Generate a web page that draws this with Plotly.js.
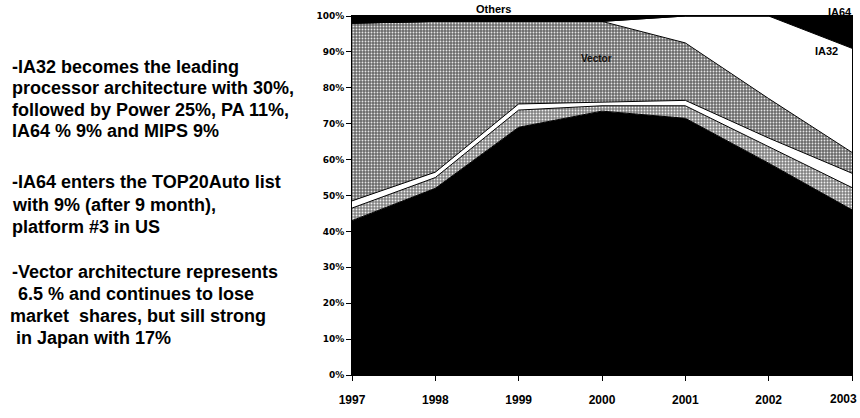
<!DOCTYPE html>
<html>
<head>
<meta charset="utf-8">
<script src="https://cdn.plot.ly/plotly-3.0.1.min.js"></script>
<style>
  html, body { margin: 0; padding: 0; background: #fff; overflow: hidden; }
  #chart { width: 860px; height: 418px; }
</style>
</head>
<body>
<div id="chart"></div>
<script>
// ---- data (shares in %) ----
const years   = [1997, 1998, 1999, 2000, 2001, 2002, 2003];
const risc    = [43, 52, 69, 73.5, 71.5, 59, 46];     // black bottom block
const band2   = [3.5, 3, 4.8, 1.5, 3.5, 4.5, 6.2];    // lower textured band
const band3   = [2, 1.5, 1.7, 1, 1.5, 2.5, 4];        // white strip
const vector  = [49.5, 42, 23, 22.5, 16, 11, 5.8];    // Vector (grey)
const ia32    = [0, 0, 0, 0, 7.5, 23, 29];
const ia64    = [0, 0, 0, 0, 0, 0, 9];
const others  = [2, 1.5, 1.5, 1.5, 0, 0, 0];

const yTickVals = [0, 10, 20, 30, 40, 50, 60, 70, 80, 90, 100];

const notes = [
  "-IA32 becomes the leading",
  "processor architecture with 30%,",
  "followed by Power 25%, PA 11%,",
  "IA64 % 9% and MIPS 9%",
  "-IA64 enters the TOP20Auto list",
  "with 9% (after 9 month),",
  "platform #3 in US",
  "-Vector architecture represents",
  "6.5 % and continues to lose",
  "market  shares, but sill strong",
  "in Japan with 17%"
];

// ---- geometry ----
const W = 860, H = 418;
const M = { l: 352, r: 8, t: 16, b: 43 };
const PW = W - M.l - M.r, PH = H - M.t - M.b;
const px = x => (x - M.l) / PW;
const py = y => (H - M.b - y) / PH;

const noteX = [10, 10, 10, 10, 10, 10, 10, 10, 16, 8, 14];
const noteY = [67, 88, 110, 131, 182, 205, 227, 272, 294, 316, 338];

function area(name, y, fill, pattern) {
  const t = {
    x: years, y: y, name: name, type: 'scatter', mode: 'lines',
    stackgroup: 'one', line: { color: '#000', width: 1, shape: 'linear' },
    fillcolor: fill, hoverinfo: 'skip'
  };
  if (pattern) t.fillpattern = pattern;
  return t;
}

const traces = [
  area('RISC', risc, '#000000'),
  area('Band 2', band2, '#8a8a8a', { shape: '.', bgcolor: '#828282', fgcolor: '#f0f0f0', size: 3, solidity: 0.3 }),
  area('Band 3', band3, '#ffffff'),
  area('Vector', vector, '#7a7a7a', { shape: '.', bgcolor: '#6a6a6a', fgcolor: '#e6e6e6', size: 3, solidity: 0.3 }),
  area('IA32', ia32, '#ffffff'),
  area('IA64', ia64, '#000000'),
  area('Others', others, '#000000')
];

const annotations = notes.map((s, i) => ({
  text: s, xref: 'paper', yref: 'paper', x: px(noteX[i]), y: py(noteY[i]),
  xanchor: 'left', yanchor: 'middle', align: 'left', showarrow: false,
  font: { family: 'Liberation Sans, Arial, sans-serif', size: 18, color: '#000', weight: 'bold' }
}));

const tickFontX = { family: 'Liberation Sans, Arial, sans-serif', size: 12, color: '#000', weight: 'bold' };
const labelFont = { family: 'Liberation Sans, Arial, sans-serif', size: 11, color: '#000', weight: 'bold' };
annotations.push(
  { text: 'Others', xref: 'paper', yref: 'paper', x: px(493), y: py(9), xanchor: 'center', yanchor: 'middle', showarrow: false, font: labelFont },
  { text: 'IA32', xref: 'paper', yref: 'paper', x: px(826), y: py(51), xanchor: 'center', yanchor: 'middle', showarrow: false, font: labelFont },
  { text: 'IA64', xref: 'paper', yref: 'paper', x: px(840), y: py(12), xanchor: 'center', yanchor: 'middle', showarrow: false, font: labelFont },
  { text: 'Vector', xref: 'paper', yref: 'paper', x: px(596), y: py(58), xanchor: 'center', yanchor: 'middle', showarrow: false, font: { family: 'Liberation Sans, Arial, sans-serif', size: 10, color: '#111', weight: 'bold' } },
  // last year label kept whole inside the window (it sits on the right edge)
  { text: String(years[years.length - 1]), xref: 'paper', yref: 'paper', x: px(859), y: py(399), xanchor: 'right', yanchor: 'middle', showarrow: false, font: tickFontX }
);

const layout = {
  width: W, height: H,
  margin: { l: M.l, r: M.r, t: M.t, b: M.b, pad: 0 },
  paper_bgcolor: '#ffffff', plot_bgcolor: '#ffffff',
  showlegend: false,
  xaxis: {
    range: [1997, 2003], tickvals: years,
    ticktext: years.map((v, i) => i === years.length - 1 ? '' : String(v)),
    ticks: 'outside', ticklen: 5, tickcolor: '#000', tickwidth: 1,
    showline: true, linecolor: '#000', linewidth: 1, mirror: true,
    showgrid: false, zeroline: false, ticklabelstandoff: 9,
    tickfont: tickFontX
  },
  yaxis: {
    range: [0, 100], tickvals: yTickVals, ticktext: yTickVals.map(v => v + '%'),
    ticks: 'outside', ticklen: 5, tickcolor: '#000', tickwidth: 1,
    showline: true, linecolor: '#000', linewidth: 1, mirror: true,
    showgrid: false, zeroline: false,
    tickfont: { family: 'DejaVu Sans, sans-serif', size: 9, color: '#000', weight: 'bold' }
  },
  annotations: annotations
};

Plotly.newPlot('chart', traces, layout, { staticPlot: true, displayModeBar: false });
</script>
</body>
</html>
